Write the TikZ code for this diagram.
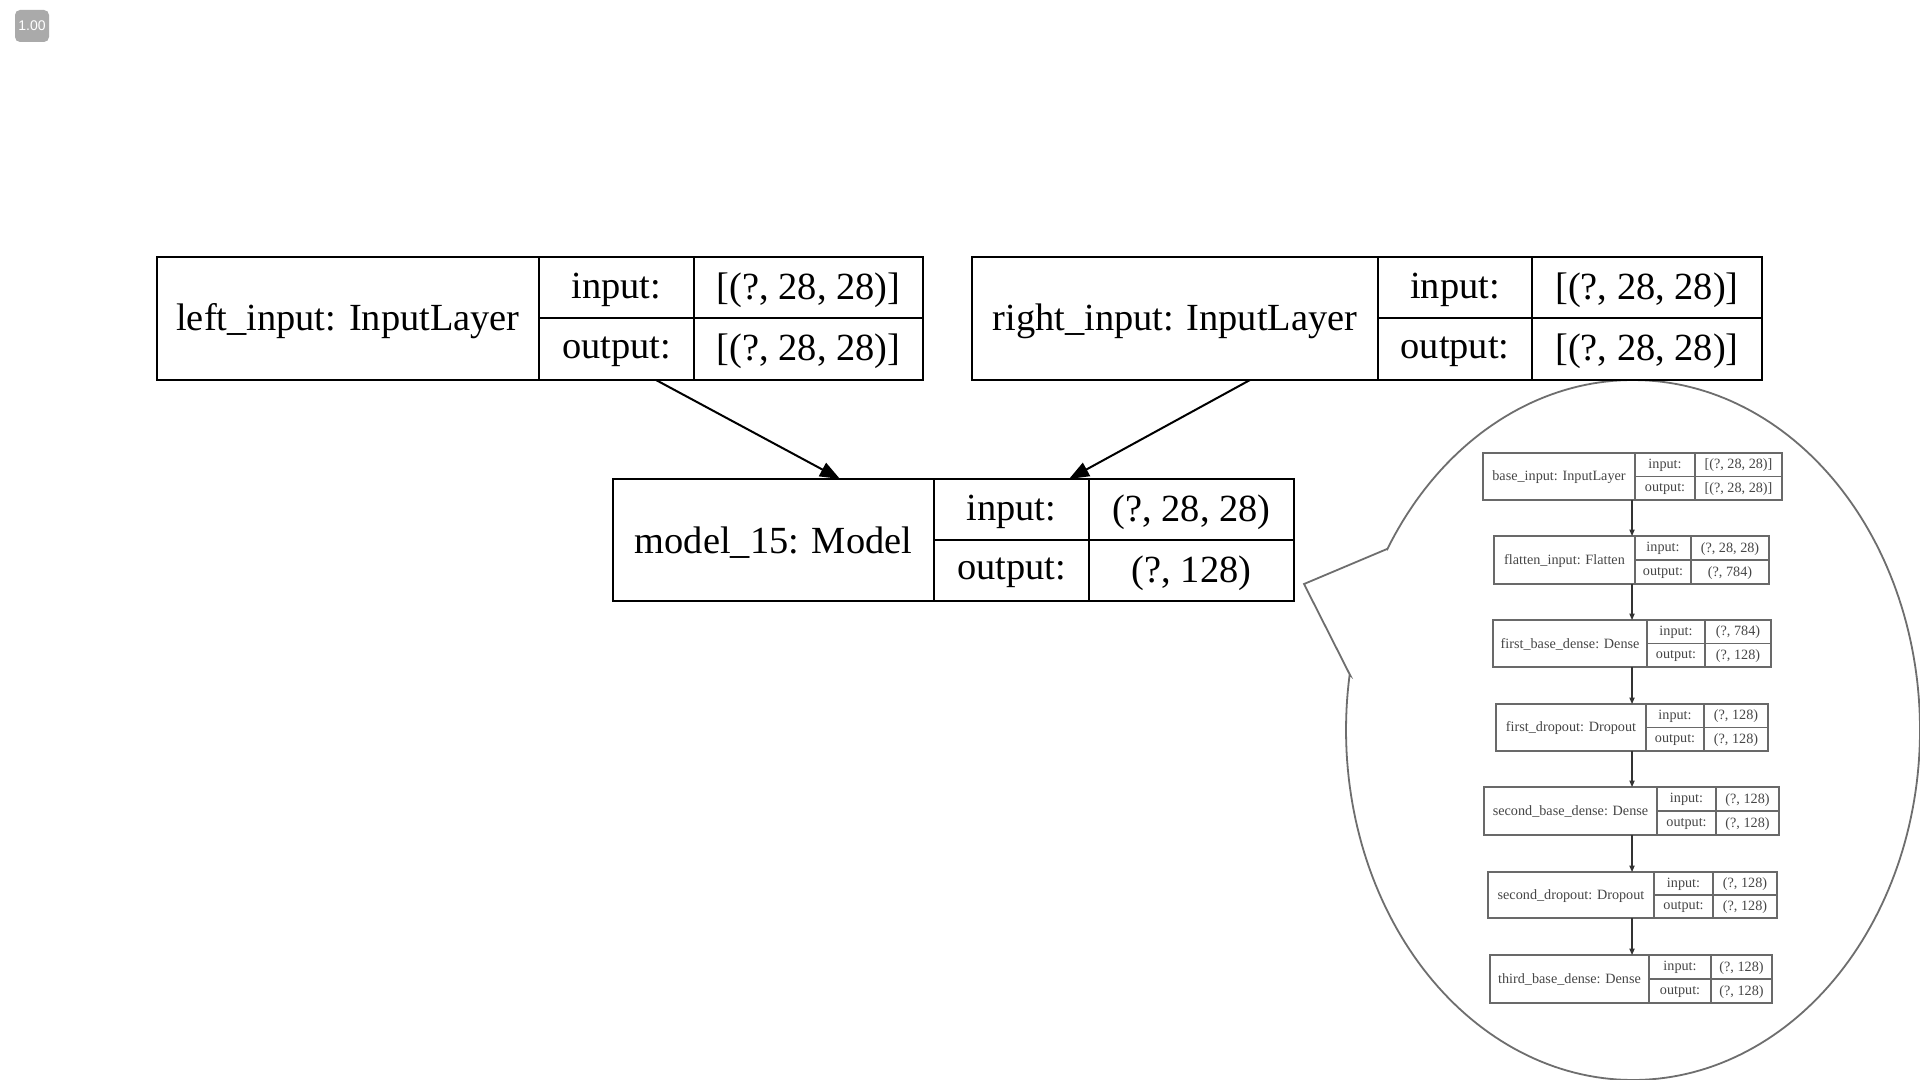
\documentclass[tikz,border=0pt]{standalone}
\usepackage{fontspec}
\setmainfont{Liberation Serif}
\setsansfont{Liberation Sans}
\usetikzlibrary{arrows.meta}
\definecolor{badgegray}{RGB}{170,170,170}
\definecolor{innerline}{RGB}{105,105,105}
\definecolor{innertext}{RGB}{70,70,70}
\definecolor{ovalline}{RGB}{110,110,110}
\tikzset{
  cell/.style={draw, inner sep=0pt, outer sep=0pt, anchor=center},
  bigcell/.style={cell, line width=1pt, font=\fontsize{19.2}{22}\selectfont},
  smallcell/.style={cell, line width=0.7pt, draw=innerline, text=innertext, font=\fontsize{7.1}{8}\selectfont},
  bigarr/.style={line width=1pt, -{Triangle[length=10pt,width=7.5pt]}},
  smallarr/.style={line width=0.6pt, draw=black!80, -{Triangle[length=3.2pt,width=2.6pt]}},
  callout/.style={draw=ovalline, line width=0.9pt, line join=miter},
  badge/.style={fill=badgegray, rounded corners=2.5pt, text=white, inner sep=0pt,
    minimum width=17pt, minimum height=16pt, font=\sffamily\fontsize{7}{8}\selectfont}
}
% #1 name, #2 x1, #3 d1, #4 d2, #5 x2, #6 y1, #7 y2, #8 label, #9 input value; then {output value}
\newcommand\rec[9]{\def\recname{#1}\def\recxa{#2}\def\recda{#3}\def\recdb{#4}\def\recxb{#5}%
  \def\recya{#6}\def\recyb{#7}\def\reclabel{#8}\def\recin{#9}\recfinish}
\newcommand\rectxt[1]{\raisebox{0pt}[\dimexpr\height+\recdrop\relax][\dimexpr\depth-\recdrop\relax]{#1}}
\newcommand\recfinish[1]{%
  \pgfmathsetmacro\recym{(\recya+\recyb)/2}%
  \pgfmathsetmacro\recwa{(\recda-\recxa)*0.5}%
  \pgfmathsetmacro\recwb{(\recdb-\recda)*0.5}%
  \pgfmathsetmacro\recwc{(\recxb-\recdb)*0.5}%
  \pgfmathsetmacro\rech{(\recyb-\recya)*0.5}%
  \pgfmathsetmacro\rechh{(\recyb-\recya)*0.25}%
  \pgfmathsetmacro\recca{(\recxa+\recda)/2}%
  \pgfmathsetmacro\reccb{(\recda+\recdb)/2}%
  \pgfmathsetmacro\reccc{(\recdb+\recxb)/2}%
  \pgfmathsetmacro\recyi{(\recya+\recym)/2}%
  \pgfmathsetmacro\recyo{(\recym+\recyb)/2}%
  \node[\recstyle, minimum width=\recwa pt, minimum height=\rech pt] (\recname-name) at (\recca,\recym) {\rectxt{\reclabel}};
  \node[\recstyle, minimum width=\recwb pt, minimum height=\rechh pt] (\recname-il) at (\reccb,\recyi) {\rectxt{input:}};
  \node[\recstyle, minimum width=\recwb pt, minimum height=\rechh pt] (\recname-ol) at (\reccb,\recyo) {\rectxt{output:}};
  \node[\recstyle, minimum width=\recwc pt, minimum height=\rechh pt] (\recname-iv) at (\reccc,\recyi) {\rectxt{\recin}};
  \node[\recstyle, minimum width=\recwc pt, minimum height=\rechh pt] (\recname-ov) at (\reccc,\recyo) {\rectxt{#1}};
}
\begin{document}
\begin{tikzpicture}[x=0.5pt,y=-0.5pt]
\useasboundingbox (0,0) rectangle (1920,1080);
\fill[white] (0,0) rectangle (1920,1080);

\node[badge] (badge) at (32,26) {1.00};

% callout oval with tail
\draw[callout] (1387,549) -- (1304,584) -- (1350,675)
  -- plot[domain=0:338, samples=241] ({1633+287*cos(189.1-\x)},{730+350*sin(189.1-\x)}) -- cycle;

% main records
\def\recstyle{bigcell}
\def\recdrop{1.2pt}
\rec{li}{157}{539}{694}{923}{257}{380}{left\_input: InputLayer}{[(?, 28, 28)]}{[(?, 28, 28)]}
\rec{ri}{972}{1378}{1532}{1762}{257}{380}{right\_input: InputLayer}{[(?, 28, 28)]}{[(?, 28, 28)]}
\rec{m}{613}{934}{1089}{1294}{479}{601}{model\_15: Model}{(?, 28, 28)}{(?, 128)}

\coordinate (lsrc) at (656,0);
\coordinate (ldst) at (840,0);
\coordinate (rsrc) at (1250,0);
\coordinate (rdst) at (1069,0);
\draw[bigarr] (lsrc |- li-name.south) -- (ldst |- m-name.north);
\draw[bigarr] (rsrc |- ri-name.south) -- (rdst |- m-name.north);

% inner records
\def\recstyle{smallcell}
\def\recdrop{0.3pt}
\rec{b1}{1483}{1635}{1695}{1782}{453}{500}{base\_input: InputLayer}{[(?, 28, 28)]}{[(?, 28, 28)]}
\rec{b2}{1494}{1635}{1691}{1769}{536}{584}{flatten\_input: Flatten}{(?, 28, 28)}{(?, 784)}
\rec{b3}{1493}{1647}{1705}{1771}{620}{667}{first\_base\_dense: Dense}{(?, 784)}{(?, 128)}
\rec{b4}{1496}{1646}{1704}{1768}{704}{751}{first\_dropout: Dropout}{(?, 128)}{(?, 128)}
\rec{b5}{1484}{1657}{1716}{1779}{787}{835}{second\_base\_dense: Dense}{(?, 128)}{(?, 128)}
\rec{b6}{1488}{1654}{1713}{1777}{872}{918}{second\_dropout: Dropout}{(?, 128)}{(?, 128)}
\rec{b7}{1490}{1649}{1711}{1772}{955}{1003}{third\_base\_dense: Dense}{(?, 128)}{(?, 128)}

\coordinate (spine) at (1632,0);
\draw[smallarr] (spine |- b1-name.south) -- (spine |- b2-name.north);
\draw[smallarr] (spine |- b2-name.south) -- (spine |- b3-name.north);
\draw[smallarr] (spine |- b3-name.south) -- (spine |- b4-name.north);
\draw[smallarr] (spine |- b4-name.south) -- (spine |- b5-name.north);
\draw[smallarr] (spine |- b5-name.south) -- (spine |- b6-name.north);
\draw[smallarr] (spine |- b6-name.south) -- (spine |- b7-name.north);
\end{tikzpicture}
\end{document}
